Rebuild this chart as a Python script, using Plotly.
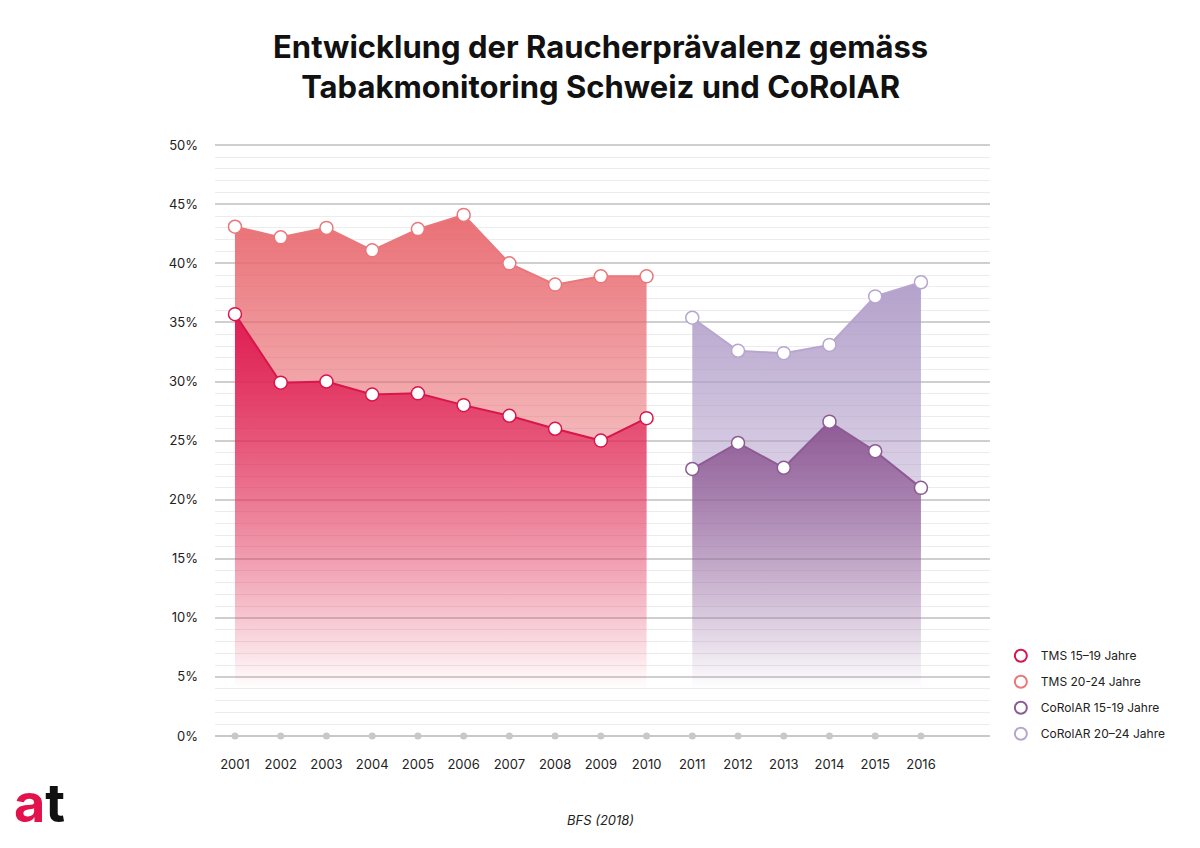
import plotly.graph_objects as go

years_tms = [2001, 2002, 2003, 2004, 2005, 2006, 2007, 2008, 2009, 2010]
years_cor = [2011, 2012, 2013, 2014, 2015, 2016]
tms_15_19 = [35.7, 29.9, 30.0, 28.9, 29.0, 28.0, 27.1, 26.0, 25.0, 26.9]
tms_20_24 = [43.1, 42.2, 43.0, 41.1, 42.9, 44.1, 40.0, 38.2, 38.9, 38.9]
cor_15_19 = [22.6, 24.8, 22.7, 26.6, 24.1, 21.0]
cor_20_24 = [35.4, 32.6, 32.4, 33.1, 37.2, 38.4]
all_years = years_tms + years_cor
y_ticks = [0, 5, 10, 15, 20, 25, 30, 35, 40, 45, 50]
y_labels = [f"{v}%" for v in y_ticks]

series = [
    ("TMS 20-24 Jahre", years_tms, tms_20_24, "#e9777b", (232, 104, 110)),
    ("TMS 15\u201319 Jahre", years_tms, tms_15_19, "#d9164b", (222, 24, 80)),
    ("CoRolAR 20\u201324 Jahre", years_cor, cor_20_24, "#b7a5cf", (176, 156, 200)),
    ("CoRolAR 15-19 Jahre", years_cor, cor_15_19, "#8d5b93", (140, 86, 146)),
]

fig = go.Figure()
for name, xs, ys, lc, rgb in series:
    r, g, b = rgb
    fig.add_trace(go.Scatter(
        x=xs, y=ys, mode="lines+markers", name=name, showlegend=False,
        line=dict(color=lc, width=2),
        marker=dict(size=13, color="white", line=dict(color=lc, width=1.5)),
        fill="tozeroy",
        fillgradient=dict(type="vertical", start=4, stop=max(ys),
                          colorscale=[[0, f"rgba({r},{g},{b},0)"],
                                      [0.5, f"rgba({r},{g},{b},0.45)"],
                                      [1, f"rgba({r},{g},{b},0.95)"]]),
        cliponaxis=False,
    ))

# zero-line dots
fig.add_trace(go.Scatter(
    x=all_years, y=[0] * len(all_years), mode="markers", showlegend=False,
    marker=dict(size=7, color="#c8c8c8"), cliponaxis=False, hoverinfo="skip"))

legend_items = [
    ("TMS 15\u201319 Jahre", "#d9164b"),
    ("TMS 20-24 Jahre", "#e9777b"),
    ("CoRolAR 15-19 Jahre", "#8d5b93"),
    ("CoRolAR 20\u201324 Jahre", "#b7a5cf"),
]
for i, (name, c) in enumerate(legend_items):
    fig.add_trace(go.Scatter(
        x=[None], y=[None], mode="markers", name=name, legendgroup=f"g{i}",
        marker=dict(symbol="circle-open", size=14, color=c, line=dict(width=2))))

fig.update_layout(
    width=1200, height=848,
    paper_bgcolor="white", plot_bgcolor="white",
    margin=dict(l=215, r=210, t=144, b=112),
    font=dict(family="Inter, Roboto, sans-serif", color="#222", size=13),
    xaxis=dict(range=[2000.563, 2017.51], tickvals=all_years,
               ticktext=[str(y) for y in all_years], showgrid=False,
               zeroline=False, showline=False, ticks="", ticklabelstandoff=19,
               tickfont=dict(size=13, color="#222")),
    yaxis=dict(range=[0, 50.1], tickvals=y_ticks, ticktext=y_labels,
               showgrid=True, gridcolor="#cfcfcf", gridwidth=1.5,
               zeroline=True, zerolinecolor="#c8c8c8", zerolinewidth=2,
               ticks="", ticklabelstandoff=16,
               tickfont=dict(size=13, color="#222"),
               minor=dict(dtick=1, showgrid=True, gridcolor="#ececec", gridwidth=1)),
    legend=dict(x=1.014, y=0.16, xanchor="left", yanchor="top",
                font=dict(size=12, color="#222"), tracegroupgap=7,
                itemsizing="constant", bgcolor="rgba(0,0,0,0)"),
    annotations=[
        dict(text="<b>Entwicklung der Raucherprävalenz gemäss<br>Tabakmonitoring Schweiz und CoRolAR</b>",
             x=(600 - 215) / 775, y=(736 - 68) / 591, xref="paper", yref="paper",
             xanchor="center", yanchor="middle", showarrow=False,
             font=dict(size=31, color="#111", family="Inter, sans-serif")),
        dict(text="<i>BFS (2018)</i>", x=(600 - 215) / 775, y=-(820 - 736) / 591,
             xref="paper", yref="paper", yanchor="middle", showarrow=False,
             font=dict(size=13, color="#222")),
        dict(text="<b><span style='color:#e2134c'>a</span><span style='color:#111'>t</span></b>",
             xref="paper", yref="paper", x=-0.262, y=-(768 - 736) / 591,
             xanchor="left", yanchor="top",
             showarrow=False, font=dict(size=54, family="Inter, sans-serif")),
    ],
)
fig.write_html("out.html")
